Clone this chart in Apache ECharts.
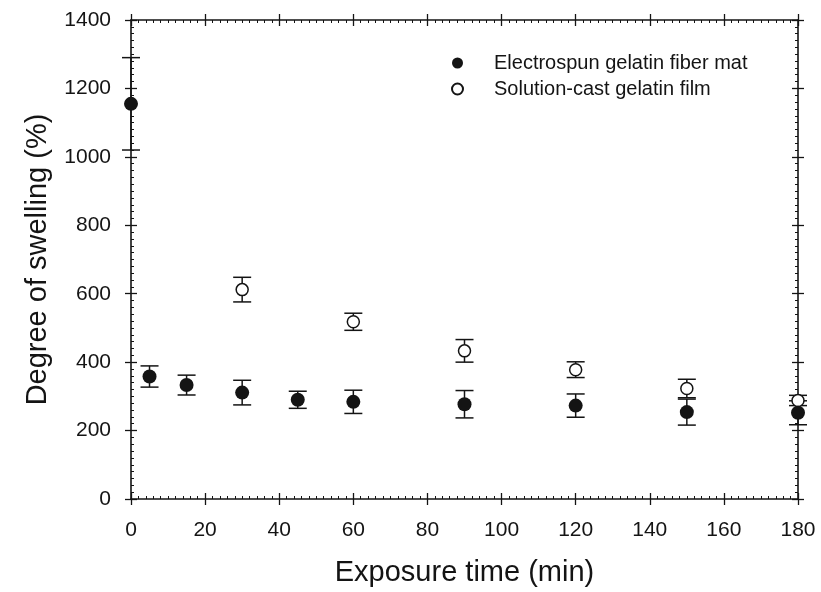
<!DOCTYPE html>
<html>
<head>
<meta charset="utf-8">
<script src="https://cdn.jsdelivr.net/npm/echarts@6/dist/echarts.min.js"></script>
<style>html,body{margin:0;padding:0;background:#fff}#c{width:821px;height:592px}</style>
</head>
<body>
<div id="c"></div>
<script>
// Data
const timeFiber = [0, 5, 15, 30, 45, 60, 90, 120, 150, 180];
const swellFiber = [1155, 358, 333, 311, 290, 284, 277, 273, 254, 252];
const sdFiber = [135, 31, 29, 36, 25, 34, 40, 34, 38, 35];
const timeFilm = [30, 60, 90, 120, 150, 180];
const swellFilm = [612, 518, 433, 378, 323, 288];
const sdFilm = [36, 25, 33, 23, 27, 15];
const xTicks = [0, 20, 40, 60, 80, 100, 120, 140, 160, 180];
const yTicks = [0, 200, 400, 600, 800, 1000, 1200, 1400];
const nameFiber = 'Electrospun gelatin fiber mat';
const nameFilm = 'Solution-cast gelatin film';

const FONT = '"Liberation Sans", Arial, sans-serif';
const INK = '#141414';
const rect = {left: 131, right: 23, top: 20, bottom: 93};

function pts(xs, ys) { return xs.map((x, i) => [x, ys[i]]); }
function errs(xs, ys, sd) { return xs.map((x, i) => [x, ys[i] - sd[i], ys[i] + sd[i]]); }

function errRender(params, api) {
  const x = api.value(0);
  const lo = api.coord([x, api.value(1)]);
  const hi = api.coord([x, api.value(2)]);
  const w = 9;
  const st = {stroke: INK, lineWidth: 1.5};
  return {type: 'group', children: [
    {type: 'line', shape: {x1: lo[0], y1: lo[1], x2: hi[0], y2: hi[1]}, style: st},
    {type: 'line', shape: {x1: lo[0] - w, y1: lo[1], x2: lo[0] + w, y2: lo[1]}, style: st},
    {type: 'line', shape: {x1: hi[0] - w, y1: hi[1], x2: hi[0] + w, y2: hi[1]}, style: st}
  ]};
}

const xMin = xTicks[0], xMax = xTicks[xTicks.length - 1], xInt = xTicks[1] - xTicks[0];
const yMin = yTicks[0], yMax = yTicks[yTicks.length - 1], yInt = yTicks[1] - yTicks[0];

function xAx(grid, pos, inside, labels) {
  return {
    type: 'value', gridIndex: grid, position: pos, min: xMin, max: xMax, interval: xInt,
    axisLine: {show: inside, onZero: false, lineStyle: {color: INK, width: 1.6}},
    axisTick: {show: true, inside: inside, length: 6, lineStyle: {color: INK, width: 1.3}},
    minorTick: {show: inside, splitNumber: 10, length: 3, lineStyle: {color: INK, width: 1}},
    axisLabel: {show: labels, fontFamily: FONT, fontSize: 21, color: INK, margin: 21,
                formatter: v => String(v)},
    splitLine: {show: false},
    name: labels ? 'Exposure time (min)' : '', nameLocation: 'middle', nameGap: 59,
    nameTextStyle: {fontFamily: FONT, fontSize: 29, color: INK}
  };
}
function yAx(grid, pos, inside, labels) {
  return {
    type: 'value', gridIndex: grid, position: pos, min: yMin, max: yMax, interval: yInt,
    axisLine: {show: inside, onZero: false, lineStyle: {color: INK, width: 1.6}},
    axisTick: {show: true, inside: inside, length: 6, lineStyle: {color: INK, width: 1.3}},
    minorTick: {show: inside, splitNumber: 10, length: 3, lineStyle: {color: INK, width: 1}},
    axisLabel: {show: labels, fontFamily: FONT, fontSize: 21, color: INK, margin: 20,
                formatter: v => String(v)},
    splitLine: {show: false},
    name: labels ? 'Degree of swelling (%)' : '', nameLocation: 'middle', nameGap: 79,
    nameTextStyle: {fontFamily: FONT, fontSize: 29, color: INK}
  };
}

const chart = echarts.init(document.getElementById('c'), null, {renderer: 'canvas'});
chart.setOption({
  backgroundColor: '#fff',
  animation: false,
  grid: [Object.assign({}, rect), Object.assign({}, rect)],
  xAxis: [xAx(0, 'bottom', true, true), xAx(0, 'top', true, false),
          xAx(1, 'bottom', false, false), xAx(1, 'top', false, false)],
  yAxis: [yAx(0, 'left', true, true), yAx(0, 'right', true, false),
          yAx(1, 'left', false, false), yAx(1, 'right', false, false)],
  legend: {
    orient: 'vertical', left: 446, top: 48, itemGap: 6,
    itemWidth: 11, itemHeight: 11, icon: 'circle',
    textStyle: {fontFamily: FONT, fontSize: 20, color: INK, padding: [0, 0, 0, 26]},
    data: [nameFiber, nameFilm]
  },
  series: [
    {type: 'custom', name: 'errFiber', xAxisIndex: 0, yAxisIndex: 0, renderItem: errRender,
     data: errs(timeFiber, swellFiber, sdFiber), z: 2, silent: true},
    {type: 'custom', name: 'errFilm', xAxisIndex: 0, yAxisIndex: 0, renderItem: errRender,
     data: errs(timeFilm, swellFilm, sdFilm), z: 2, silent: true},
    {type: 'scatter', name: nameFilm, xAxisIndex: 0, yAxisIndex: 0, symbol: 'circle', symbolSize: 12,
     itemStyle: {color: '#fff', borderColor: INK, borderWidth: 1.5, opacity: 1},
     data: pts(timeFilm, swellFilm), z: 4, clip: false},
    {type: 'scatter', name: nameFiber, xAxisIndex: 0, yAxisIndex: 0, symbol: 'circle', symbolSize: 14,
     itemStyle: {color: INK, opacity: 1},
     data: pts(timeFiber, swellFiber), z: 5, clip: false}
  ]
});
</script>
</body>
</html>
